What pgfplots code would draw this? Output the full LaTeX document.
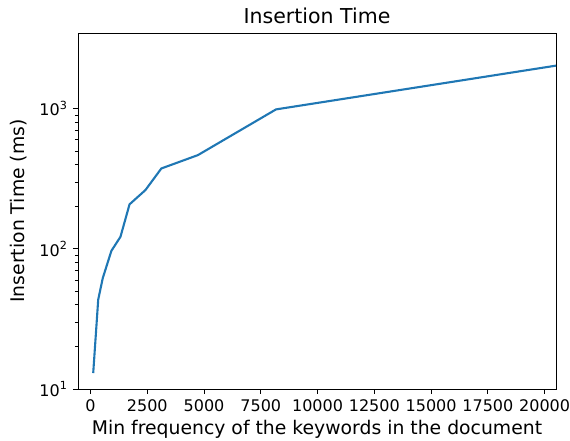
\documentclass[border=0pt]{standalone}
\usepackage{pgfplots}
\pgfplotsset{compat=1.18}
\usepackage{fontspec}
\setmainfont{DejaVu Sans}
\definecolor{mplblue}{HTML}{1F77B4}
\pgfplotstableread{
x y
120 13.0
340 43.4
540 61.8
920 96.8
1320 122
1720 208
2420 263
3120 375
4730 467
8170 990
20500 2032
}\datatable
\begin{document}
\begin{tikzpicture}
\useasboundingbox (-78pt,-52pt) rectangle (492pt,389pt);
\begin{axis}[
  at={(0pt,0pt)}, anchor=south west,
  scale only axis, width=478pt, height=356pt,
  ymode=log,
  xmin=-550, xmax=20500, ymin=10, ymax=3475,
  xtick={0,2500,...,20000},
  scaled x ticks=false,
  ytick={10,100,1000},
  yticklabels={10\textsuperscript{1},10\textsuperscript{2},10\textsuperscript{3}},
  xticklabel style={font=\fontsize{16}{19}\selectfont, /pgf/number format/fixed, /pgf/number format/1000 sep={}, /pgf/number format/assume math mode=true},
  yticklabel style={font=\fontsize{16}{19}\selectfont},
  tick align=outside, xtick pos=bottom, ytick pos=left,
  major tick length=5pt, minor tick length=3pt,
  tick style={black, line width=0.8pt},
  xticklabel shift=2pt, yticklabel shift=2pt,
  axis line style={black, line width=0.8pt},
  every axis title/.style={at={([yshift=9pt]rel axis cs:0.5,1)}, anchor=base, font=\fontsize{20.5}{24}\selectfont},
  every axis x label/.style={at={([yshift=-46pt]rel axis cs:0.5,0)}, anchor=base, font=\fontsize{18.8}{22}\selectfont},
  every axis y label/.style={at={([xshift=-53pt]rel axis cs:0,0.5)}, anchor=base, rotate=90, font=\fontsize{18.8}{22}\selectfont},
  title={Insertion Time},
  xlabel={Min frequency of the keywords in the document},
  ylabel={Insertion Time (ms)},
]
\addplot[mplblue, line width=2.1pt, line join=round, no markers] table[x=x, y=y] {\datatable};
\end{axis}
\end{tikzpicture}
\end{document}
